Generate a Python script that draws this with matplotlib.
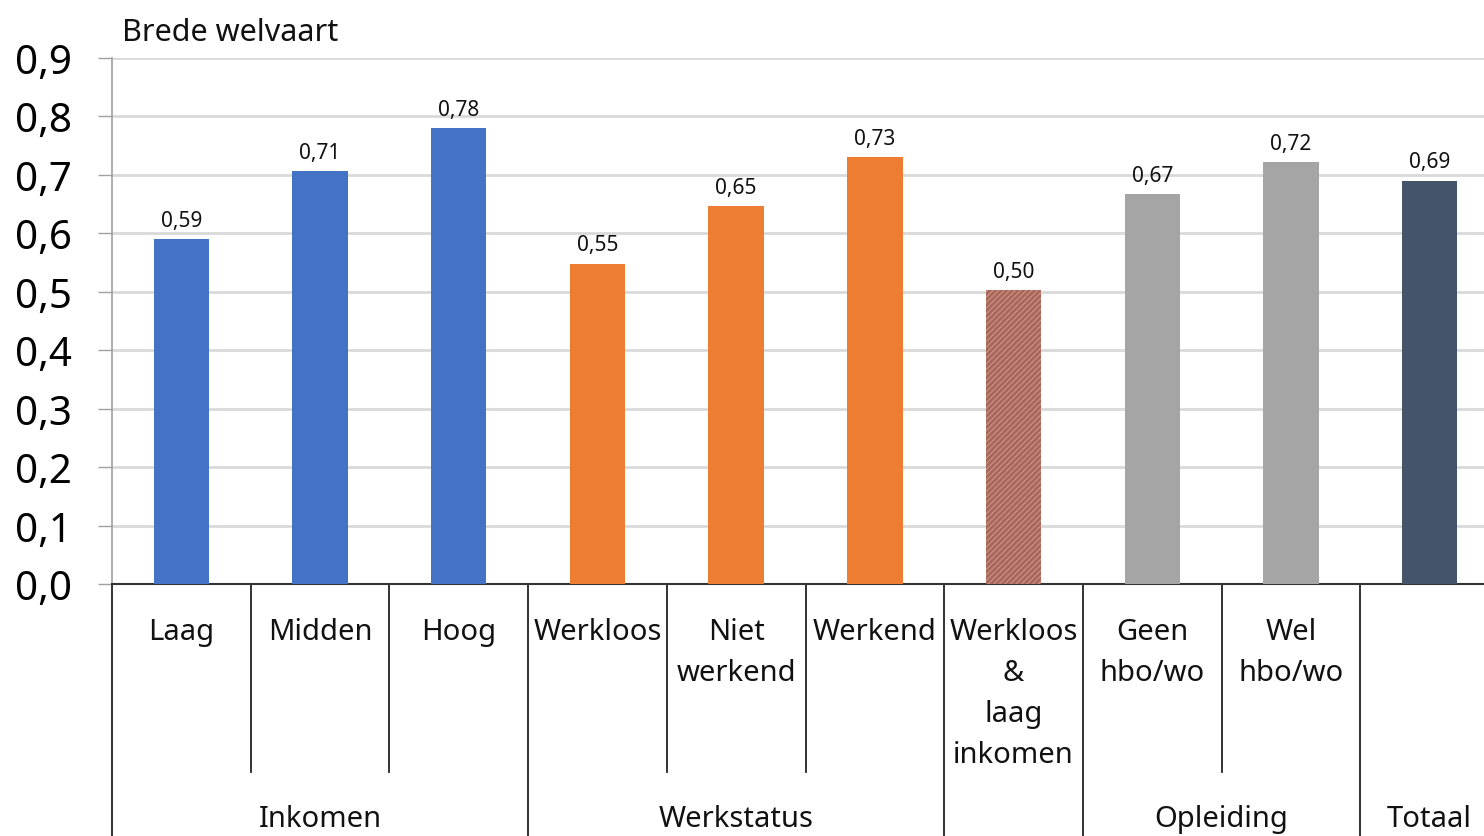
import matplotlib
matplotlib.use("Agg")
import matplotlib.pyplot as plt

plt.rcParams['font.family'] = ['Noto Sans', 'DejaVu Sans']
plt.rcParams['hatch.linewidth'] = 0.8

categories = ["Laag", "Midden", "Hoog", "Werkloos", "Niet\nwerkend", "Werkend",
              "Werkloos\n&\nlaag\ninkomen", "Geen\nhbo/wo", "Wel\nhbo/wo", ""]
values = [0.59, 0.706, 0.78, 0.548, 0.647, 0.73, 0.503, 0.667, 0.722, 0.69]
value_labels = ["0,59", "0,71", "0,78", "0,55", "0,65", "0,73", "0,50", "0,67", "0,72", "0,69"]
colors = ["#4472C4", "#4472C4", "#4472C4", "#ED7D31", "#ED7D31", "#ED7D31",
          "#A9675A", "#A5A5A5", "#A5A5A5", "#44546A"]
groups = ["Inkomen", "Werkstatus", "", "Opleiding", "Totaal"]
group_sizes = [3, 3, 1, 2, 1]
yticks = [0.0, 0.1, 0.2, 0.3, 0.4, 0.5, 0.6, 0.7, 0.8, 0.9]
ytick_labels = ["0,0", "0,1", "0,2", "0,3", "0,4", "0,5", "0,6", "0,7", "0,8", "0,9"]

fig = plt.figure(figsize=(14.84, 8.37), dpi=100)
ax = fig.add_axes([112/1484, (837-585)/837, (1499-112)/1484, 526/837])

for i, (v, c) in enumerate(zip(values, colors)):
    if i == 6:
        ax.bar(i, v, width=0.4, color=c, edgecolor="#C99486", hatch="//////", linewidth=0, zorder=3)
    else:
        ax.bar(i, v, width=0.4, color=c, linewidth=0, zorder=3)
    ax.annotate(value_labels[i], (i, v), xytext=(0, 6), textcoords="offset points",
                ha="center", va="bottom", fontsize=15, color="#111111")

ax.set_xlim(-0.5, len(values) - 0.5)
ax.set_ylim(0, 0.9)
ax.set_yticks(yticks)
ax.set_yticklabels(ytick_labels, fontsize=29)
ax.tick_params(axis="y", length=10, width=1, color="#A0A0A0", pad=19)
ax.set_xticks([])
ax.grid(axis="y", color="#D9D9D9", linewidth=2, zorder=0)
ax.set_axisbelow(True)
for s in ["top", "right"]:
    ax.spines[s].set_visible(False)
ax.spines["left"].set_color("#A0A0A0")
ax.spines["left"].set_linewidth(1.2)
ax.spines["bottom"].set_color("#333333")
ax.spines["bottom"].set_linewidth(1.5)

tr = ax.get_xaxis_transform()
line_h = 41/526
for i, lab in enumerate(categories):
    for k, line in enumerate(lab.split("\n")):
        ax.text(i, -(633-585)/526 - k*line_h, line, transform=tr, ha="center", va="center",
                fontsize=21, color="#111111")

bounds = [0]
for g in group_sizes:
    bounds.append(bounds[-1] + g)
for b in range(len(values) + 1):
    xb = b - 0.5
    if b in bounds:
        ax.plot([xb, xb], [0, -0.48], transform=tr, color="#222222", lw=1.3, clip_on=False)
    else:
        ax.plot([xb, xb], [0, -(773-585)/526], transform=tr, color="#222222", lw=1.3, clip_on=False)

for gi, g in enumerate(groups):
    if g:
        c = (bounds[gi] + bounds[gi+1] - 1) / 2
        ax.text(c, -(820-585)/526, g, transform=tr, ha="center", va="center",
                fontsize=21, color="#111111")

fig.text(122/1484, 1 - 33/837, "Brede welvaart", ha="left", va="center", fontsize=22, color="#111111")

fig.savefig("out.png", dpi=100)
